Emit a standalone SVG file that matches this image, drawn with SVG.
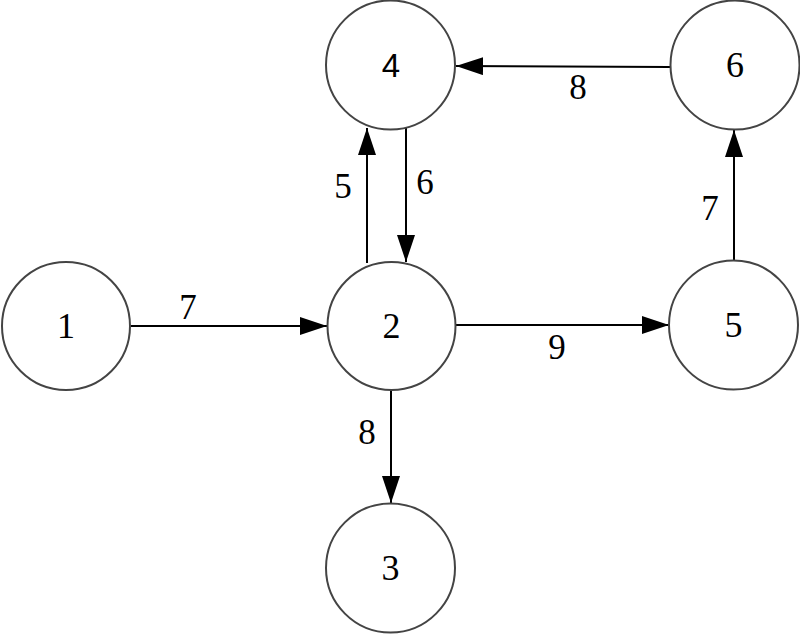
<svg xmlns="http://www.w3.org/2000/svg" width="800" height="634" viewBox="0 0 800 634">
<style>
.node circle{fill:#fff;stroke:#444;stroke-width:2}
.node text{font-family:"Liberation Serif","Times New Roman",serif;font-size:36px;fill:#000;text-anchor:middle;dominant-baseline:central}
.edge{stroke:#000;stroke-width:2;fill:none;marker-end:url(#ah)}
.lbl{font-family:"Liberation Serif","Times New Roman",serif;font-size:35px;fill:#000;text-anchor:middle}
</style>
<defs>
<marker id="ah" viewBox="0 0 27 18" refX="27" refY="9" markerWidth="27" markerHeight="18" markerUnits="userSpaceOnUse" orient="auto">
<path d="M0,0 L27,9 L0,18 Z" fill="#000"/>
</marker>
</defs>
<rect width="800" height="634" fill="#fff"/>
<g id="connectors">
<line class="edge" x1="131" y1="326" x2="327" y2="326"/>
<line class="edge" x1="367" y1="263" x2="367" y2="128"/>
<line class="edge" x1="406" y1="128" x2="406" y2="262"/>
<line class="edge" x1="391" y1="390" x2="391" y2="503"/>
<line class="edge" x1="456" y1="325" x2="669" y2="325"/>
<line class="edge" x1="734" y1="261" x2="734" y2="130"/>
<line class="edge" x1="670" y1="67" x2="456" y2="66"/>
<text class="lbl" x="188" y="319">7</text>
<text class="lbl" x="343" y="198">5</text>
<text class="lbl" x="425" y="194">6</text>
<text class="lbl" x="367" y="444">8</text>
<text class="lbl" x="557" y="359">9</text>
<text class="lbl" x="710" y="220">7</text>
<text class="lbl" x="578" y="99">8</text>
</g>
<g id="node1" class="node"><circle cx="66" cy="326" r="64"/><text x="66" y="326">1</text></g>
<g id="node2" class="node"><circle cx="391.5" cy="326" r="64"/><text x="391.5" y="326">2</text></g>
<g id="node3" class="node"><circle cx="390.5" cy="568" r="64.5"/><text x="390.5" y="568">3</text></g>
<g id="node4" class="node"><circle cx="390.5" cy="65" r="64.5"/><text x="391" y="65" style="font-family:'Liberation Sans',Arial,sans-serif;font-size:33px">4</text></g>
<g id="node5" class="node"><circle cx="733.5" cy="325" r="64.5"/><text x="733.5" y="325">5</text></g>
<g id="node6" class="node"><circle cx="735" cy="65" r="64.5"/><text x="735" y="65">6</text></g>
</svg>
